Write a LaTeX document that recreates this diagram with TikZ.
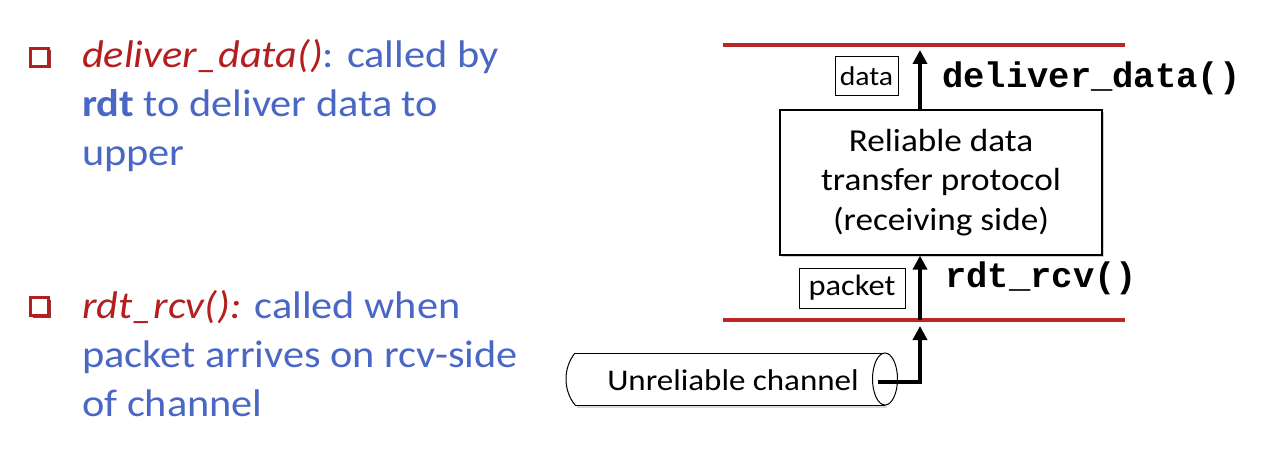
\documentclass[tikz,border=0pt]{standalone}
\usepackage{fontspec}
\setmainfont[FakeStretch=1.1]{Carlito}
\newfontfamily\codefont{Liberation Mono}
\usetikzlibrary{arrows.meta,shadows}
\definecolor{txtblue}{RGB}{74,103,197}
\definecolor{txtred}{RGB}{180,30,30}
\definecolor{linered}{RGB}{185,40,40}
\begin{document}
\begin{tikzpicture}[x=1pt,y=-1pt,
  bullettext/.style={anchor=base west, inner sep=0pt, font=\fontsize{38.5}{38.5}\selectfont, text=txtblue},
  sqbullet/.style={draw=txtred, line width=3.5pt, minimum size=18pt, inner sep=0pt, fill=white,
    drop shadow={shadow xshift=2pt, shadow yshift=-2pt, fill=txtred!70!black, opacity=0.85}},
  hline/.style={draw=linered, line width=4.5pt},
  arrowline/.style={line width=3.5pt, -{Triangle[length=14pt,width=14pt]}},
  labelbox/.style={draw, line width=1pt, inner sep=0pt},
  codetext/.style={font=\codefont\bfseries\fontsize{35.5}{35.5}\selectfont, anchor=base west, inner sep=0pt},
  pipe/.style={line width=1pt}
]
\useasboundingbox[fill=white] (0,0) rectangle (1264,460);

% bullets
\node[sqbullet] (sq1) at (39.5,57.5) {};
\node[sqbullet] (sq2) at (39.5,306.5) {};
\node[bullettext] (b1l1) at (82,68) {\textcolor{txtred}{\itshape deliver\_data()}: called by};
\node[bullettext] (b1l2) at (82,117) {\textbf{rdt} to deliver data to};
\node[bullettext] (b1l3) at (82,165) {upper};
\node[bullettext] (b2l1) at (82,318) {\textcolor{txtred}{\itshape rdt\_rcv():} called when};
\node[bullettext] (b2l2) at (82,367) {packet arrives on rcv-side};
\node[bullettext] (b2l3) at (82,416) {of channel};

% layer lines
\coordinate (topL) at (723,45);
\coordinate (topR) at (1125,45);
\coordinate (botL) at (723,320);
\coordinate (botR) at (1125,320);
\draw[hline] (topL) -- (topR);
\draw[hline] (botL) -- (botR);

% protocol box
\node[draw, line width=1.2pt, fill=white, minimum width=322pt, minimum height=145pt, align=center,
  font=\fontsize{32}{39.5}\selectfont, drop shadow={shadow xshift=2pt, shadow yshift=-2pt, fill=black!30, opacity=0.6}]
  (rdt) at (941,182.5) {Reliable data\\transfer protocol\\(receiving side)};

% arrows
\coordinate (upTip) at (920,50);
\draw[arrowline] (rdt.north -| upTip) -- (upTip);
\coordinate (lowLine) at (920,320);
\draw[arrowline] (lowLine) -- (rdt.south -| lowLine);

% labels
\node[labelbox, minimum width=63pt, minimum height=38pt, font=\fontsize{27}{27}\selectfont] (data) at (866.5,76) {data};
\node[labelbox, minimum width=106pt, minimum height=40pt, font=\fontsize{29.5}{29.5}\selectfont] (packet) at (852,288) {packet};
\node[codetext] (dd) at (942,88) {deliver\_data()};
\node[codetext] (rr) at (945,287) {rdt\_rcv()};

% channel pipe
\fill[black!15] (577,356) -- (887,356) -- (887,408) -- (577,408) -- cycle;
\fill[white] (575,353) -- (885,353) -- (885,405) -- (575,405) .. controls (563,390) and (563,368) .. (575,353);
\draw[pipe] (575,353) -- (885,353);
\draw[pipe] (575,405) -- (885,405);
\draw[pipe] (575,353) .. controls (563,368) and (563,390) .. (575,405);
\draw[pipe, fill=white] (885,379) ellipse [x radius=12.5pt, y radius=26pt];
\node[font=\fontsize{30}{30}\selectfont] (chan) at (733,380) {Unreliable channel};
\coordinate (chanOut) at (878,382);
\coordinate (chanTip) at (920,326);
\draw[arrowline] (chanOut) -| (chanTip);
\end{tikzpicture}
\end{document}
